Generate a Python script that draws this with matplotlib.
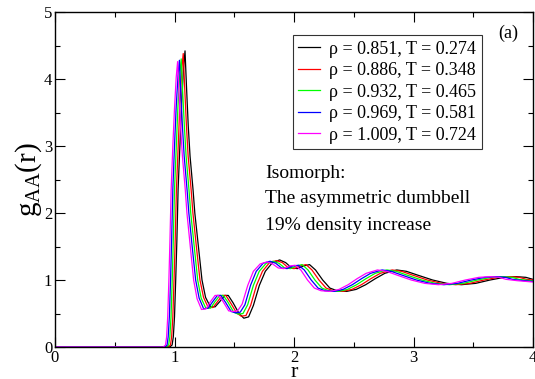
#!/usr/bin/env python3
import matplotlib
matplotlib.use('Agg')
import matplotlib.pyplot as plt
from matplotlib.ticker import MultipleLocator

# g_AA(r) along the isomorph
labels = ['ρ = 0.851, T = 0.274', 'ρ = 0.886, T = 0.348', 'ρ = 0.932, T = 0.465',
          'ρ = 0.969, T = 0.581', 'ρ = 1.009, T = 0.724']
colors = ['black', '#ff0000', '#00ff00', '#0000ff', '#ff00ff']

r_851 = [0.00, 0.96, 0.98, 0.99, 1.00, 1.01, 1.02, 1.03, 1.045, 1.06, 1.075, 1.088, 1.10, 1.115, 1.13,
         1.155, 1.17, 1.20, 1.23, 1.26, 1.30, 1.34, 1.38, 1.42, 1.45, 1.49, 1.54, 1.58, 1.62, 1.66,
         1.71, 1.76, 1.82, 1.88, 1.93, 1.98, 2.03, 2.08, 2.13, 2.18, 2.24, 2.30, 2.36, 2.44, 2.52,
         2.60, 2.68, 2.76, 2.86, 2.94, 3.04, 3.16, 3.28, 3.40, 3.52, 3.64, 3.76, 3.86, 3.94, 4.00,
         4.10, 4.24]
g_851 = [0.00, 0.00, 0.03, 0.15, 0.45, 1.00, 1.60, 2.35, 3.00, 3.65, 4.15, 4.42, 3.90, 3.30, 2.85,
         2.35, 2.00, 1.50, 1.00, 0.74, 0.60, 0.60, 0.68, 0.77, 0.77, 0.66, 0.50, 0.43, 0.45, 0.62,
         0.92, 1.13, 1.26, 1.30, 1.26, 1.18, 1.17, 1.21, 1.23, 1.15, 1.00, 0.88, 0.84, 0.83, 0.86,
         0.93, 1.02, 1.10, 1.15, 1.13, 1.07, 1.00, 0.95, 0.93, 0.95, 1.00, 1.04, 1.05, 1.04, 1.01,
         0.99, 0.97]

r_886 = [0.00, 0.947, 0.966, 0.976, 0.986, 0.996, 1.006, 1.016, 1.031, 1.045, 1.060, 1.073, 1.085, 1.100, 1.114,
         1.139, 1.154, 1.183, 1.213, 1.243, 1.282, 1.322, 1.361, 1.400, 1.430, 1.469, 1.519, 1.558, 1.598, 1.637,
         1.686, 1.736, 1.795, 1.854, 1.903, 1.953, 2.002, 2.051, 2.101, 2.150, 2.209, 2.268, 2.327, 2.406, 2.485,
         2.564, 2.643, 2.722, 2.821, 2.899, 2.998, 3.116, 3.235, 3.353, 3.471, 3.590, 3.708, 3.807, 3.886, 3.945,
         4.043, 4.181]
g_886 = [0.00, 0.00, 0.03, 0.15, 0.45, 1.00, 1.60, 2.35, 3.00, 3.63, 4.12, 4.38, 3.88, 3.30, 2.85,
         2.35, 2.00, 1.50, 1.00, 0.74, 0.59, 0.59, 0.68, 0.77, 0.77, 0.66, 0.51, 0.46, 0.47, 0.62,
         0.92, 1.13, 1.26, 1.29, 1.26, 1.18, 1.17, 1.21, 1.23, 1.15, 1.00, 0.88, 0.84, 0.83, 0.86,
         0.93, 1.02, 1.10, 1.15, 1.13, 1.07, 1.00, 0.95, 0.93, 0.95, 1.00, 1.04, 1.05, 1.04, 1.01,
         0.99, 0.97]

r_932 = [0.00, 0.932, 0.951, 0.961, 0.971, 0.981, 0.990, 1.000, 1.015, 1.029, 1.044, 1.056, 1.068, 1.083, 1.097,
         1.121, 1.136, 1.165, 1.194, 1.223, 1.262, 1.301, 1.340, 1.379, 1.408, 1.447, 1.495, 1.534, 1.573, 1.612,
         1.660, 1.709, 1.767, 1.825, 1.874, 1.922, 1.971, 2.019, 2.068, 2.117, 2.175, 2.233, 2.291, 2.369, 2.447,
         2.524, 2.602, 2.680, 2.777, 2.854, 2.951, 3.068, 3.184, 3.301, 3.417, 3.534, 3.650, 3.748, 3.825, 3.883,
         3.981, 4.117]
g_932 = [0.00, 0.00, 0.03, 0.15, 0.45, 1.00, 1.60, 2.35, 3.00, 3.60, 4.06, 4.30, 3.82, 3.28, 2.85,
         2.35, 2.00, 1.50, 1.00, 0.73, 0.58, 0.58, 0.68, 0.77, 0.77, 0.67, 0.52, 0.49, 0.50, 0.63,
         0.92, 1.13, 1.25, 1.28, 1.25, 1.18, 1.17, 1.21, 1.23, 1.15, 1.00, 0.88, 0.84, 0.83, 0.86,
         0.93, 1.02, 1.10, 1.15, 1.13, 1.07, 1.00, 0.95, 0.93, 0.95, 1.00, 1.04, 1.05, 1.04, 1.01,
         0.99, 0.97]

r_969 = [0.00, 0.919, 0.938, 0.947, 0.957, 0.967, 0.976, 0.986, 1.000, 1.014, 1.029, 1.041, 1.053, 1.067, 1.081,
         1.105, 1.120, 1.148, 1.177, 1.206, 1.244, 1.282, 1.321, 1.359, 1.388, 1.426, 1.474, 1.512, 1.550, 1.589,
         1.636, 1.684, 1.742, 1.799, 1.847, 1.895, 1.943, 1.990, 2.038, 2.086, 2.144, 2.201, 2.258, 2.335, 2.411,
         2.488, 2.565, 2.641, 2.737, 2.813, 2.909, 3.024, 3.139, 3.254, 3.368, 3.483, 3.598, 3.694, 3.770, 3.828,
         3.923, 4.057]
g_969 = [0.00, 0.00, 0.03, 0.15, 0.45, 1.00, 1.60, 2.35, 3.00, 3.58, 4.04, 4.28, 3.80, 3.27, 2.85,
         2.35, 2.00, 1.50, 1.00, 0.73, 0.57, 0.58, 0.68, 0.77, 0.77, 0.67, 0.53, 0.51, 0.52, 0.63,
         0.92, 1.13, 1.25, 1.28, 1.25, 1.18, 1.17, 1.21, 1.22, 1.15, 1.00, 0.88, 0.84, 0.83, 0.86,
         0.93, 1.02, 1.10, 1.15, 1.13, 1.07, 1.00, 0.95, 0.93, 0.95, 1.00, 1.04, 1.05, 1.04, 1.01,
         0.99, 0.97]

r_1009 = [0.00, 0.906, 0.925, 0.934, 0.943, 0.953, 0.962, 0.972, 0.986, 1.000, 1.014, 1.026, 1.038, 1.052, 1.066,
          1.090, 1.104, 1.132, 1.160, 1.189, 1.226, 1.264, 1.302, 1.340, 1.368, 1.406, 1.453, 1.491, 1.528, 1.566,
          1.613, 1.660, 1.717, 1.774, 1.821, 1.868, 1.915, 1.962, 2.009, 2.057, 2.113, 2.170, 2.226, 2.302, 2.377,
          2.453, 2.528, 2.604, 2.698, 2.774, 2.868, 2.981, 3.094, 3.208, 3.321, 3.434, 3.547, 3.642, 3.717, 3.774,
          3.868, 4.000]
g_1009 = [0.00, 0.00, 0.03, 0.15, 0.45, 1.00, 1.60, 2.35, 3.00, 3.56, 4.02, 4.26, 3.78, 3.26, 2.85,
          2.35, 2.00, 1.50, 1.00, 0.72, 0.56, 0.57, 0.68, 0.77, 0.77, 0.68, 0.54, 0.53, 0.54, 0.64,
          0.92, 1.13, 1.24, 1.27, 1.24, 1.18, 1.17, 1.21, 1.22, 1.15, 1.00, 0.88, 0.84, 0.83, 0.86,
          0.93, 1.02, 1.10, 1.15, 1.13, 1.07, 1.00, 0.95, 0.93, 0.95, 1.00, 1.04, 1.05, 1.04, 1.01,
          0.99, 0.97]

rs = [r_851, r_886, r_932, r_969, r_1009]
gs = [g_851, g_886, g_932, g_969, g_1009]

plt.rcParams['font.family'] = ['Liberation Serif', 'DejaVu Serif']
plt.rcParams['mathtext.fontset'] = 'custom'
plt.rcParams['mathtext.rm'] = 'Liberation Serif'
plt.rcParams['mathtext.it'] = 'Liberation Serif'

fig = plt.figure(figsize=(5.35, 3.79), dpi=100)
ax = fig.add_axes([0.1028, 0.0844, 0.8935, 0.8839])

for r, g, c, lab in zip(rs, gs, colors, labels):
    ax.plot(r, g, color=c, lw=0.9, label=lab)

ax.set_xlim(0, 4)
ax.set_ylim(0, 5)
ax.xaxis.set_major_locator(MultipleLocator(1))
ax.xaxis.set_minor_locator(MultipleLocator(0.5))
ax.yaxis.set_major_locator(MultipleLocator(1))
ax.yaxis.set_minor_locator(MultipleLocator(0.5))
ax.tick_params(which='both', direction='in', top=True, right=True, labelsize=12, width=0.8)
ax.tick_params(which='major', length=7, pad=2)
ax.tick_params(which='minor', length=3.5)
for s in ax.spines.values():
    s.set_linewidth(1.0)

ax.set_xlabel('r', fontsize=16, labelpad=-2)
ax.set_ylabel(r'$\mathrm{g_{AA}(r)}$', fontsize=21, labelpad=0)

leg = ax.legend(loc='upper left', bbox_to_anchor=(0.498, 0.931), borderaxespad=0,
                fontsize=13, frameon=True, fancybox=False, edgecolor='black',
                handlelength=1.2, handletextpad=0.5, labelspacing=0.25, borderpad=0.3)
leg.get_frame().set_linewidth(0.8)

ax.text(0.948, 0.937, '(a)', transform=ax.transAxes, fontsize=13, ha='center', va='center')
ax.text(0.439, 0.519, 'Isomorph:', transform=ax.transAxes, fontsize=14, va='center')
ax.text(0.439, 0.442, 'The asymmetric dumbbell', transform=ax.transAxes, fontsize=14, va='center')
ax.text(0.439, 0.364, '19% density increase', transform=ax.transAxes, fontsize=14, va='center')

fig.savefig('out.png', dpi=100)
